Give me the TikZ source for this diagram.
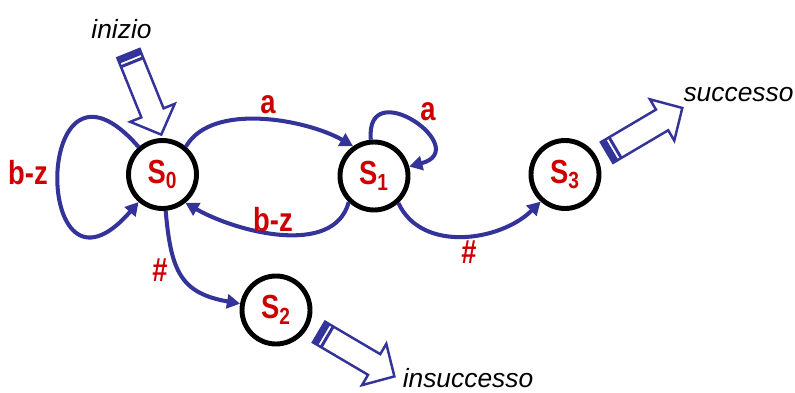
\documentclass[tikz,border=0pt]{standalone}
\usepackage{fontspec}
\setmainfont{Liberation Sans}
\newfontfamily\lblfont[FakeStretch=0.82]{Liberation Sans}
\usepackage{tikz}
\usetikzlibrary{arrows.meta}

\definecolor{edgeblue}{RGB}{51,51,153}
\definecolor{lblred}{RGB}{204,0,0}

\begin{document}
\begin{tikzpicture}[
    state/.style={draw, circle, line width=2.8pt, minimum size=1.36cm, inner sep=0pt,
      text=lblred, font=\lblfont\bfseries\fontsize{19}{22}\selectfont},
    trans/.style={draw=edgeblue, line width=2.3pt, -{Triangle[length=7.5pt,width=8pt]}},
    lbl/.style={text=lblred, font=\lblfont\bfseries\fontsize{19}{22}\selectfont},
    note/.style={font=\itshape\fontsize{15}{18}\selectfont},
    bigarrow/.pic={
      \draw[edgeblue, line width=1.4pt, fill=white, line join=miter]
        (0,-0.24) -- (1.28,-0.24) -- (1.28,-0.48) -- (1.75,0)
        -- (1.28,0.48) -- (1.28,0.24) -- (0,0.24) -- cycle;
      \fill[edgeblue] (0,-0.24) rectangle (0.12,0.24);
      \fill[edgeblue] (0.16,-0.24) rectangle (0.22,0.24);
    }
  ]
\useasboundingbox (0,0) rectangle (15.9,7.84);

% stati
\node[state] (s0) at (3.25,4.35) {S\textsubscript{0}};
\node[state] (s1) at (7.48,4.32) {S\textsubscript{1}};
\node[state] (s2) at (5.52,1.64) {S\textsubscript{2}};
\node[state] (s3) at (11.3,4.35) {S\textsubscript{3}};

% transizioni
\path[trans] (s0.131) to[out=131, in=229, looseness=7.6] (s0.229);
\path[trans] (s0.50) to[out=60, in=150, looseness=0.8] (s1.125);
\path[trans] (s1.226) to[out=-105, in=-30, looseness=0.9] (s0.-51);
\path[trans] (s1.95) to[out=95, in=15, looseness=3.7] (s1.15);
\path[trans] (s0.-85) to[out=-85, in=170, looseness=1.3] (s2.170);
\path[trans] (s1.-48) to[out=-65, in=-135] (s3.228);

\node[lbl] (l1) at (0.56,4.38) {b-z};
\node[lbl] (l2) at (5.36,5.74) {a};
\node[lbl] (l3) at (5.46,3.44) {b-z};
\node[lbl] (l4) at (8.56,5.6) {a};
\node[lbl] (l5) at (3.2,2.44) {\#};
\node[lbl] (l6) at (9.38,2.8) {\#};

% inizio / fine
\node[note] (inizio) at (2.43,7.26) {inizio};
\node[note] (successo) at (14.77,5.94) {successo};
\node[note] (insuccesso) at (9.36,0.28) {insuccesso};

\pic[rotate=-68] at (2.57,6.77) {bigarrow};
\pic[rotate=30.6] at (12.14,4.79) {bigarrow};
\pic[rotate=-30.5] at (6.38,1.2) {bigarrow};
\end{tikzpicture}
\end{document}
